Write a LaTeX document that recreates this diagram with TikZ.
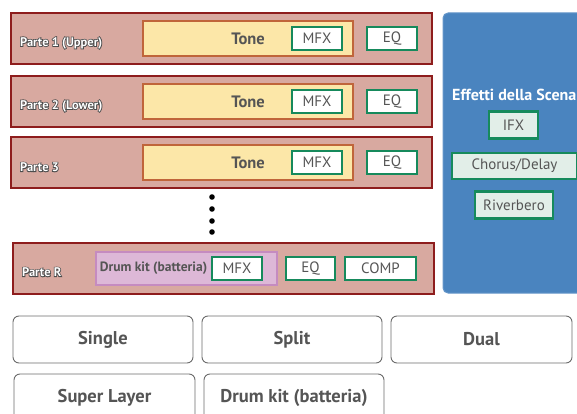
\documentclass[tikz,border=0pt]{standalone}
\usepackage{fontspec}
\setmainfont{PT Sans}
\usepackage{tikz}
\usetikzlibrary{positioning}
\definecolor{partfill}{HTML}{D8A9A0}
\definecolor{partline}{HTML}{8E1D1D}
\definecolor{tonefill}{HTML}{FCE7A8}
\definecolor{toneline}{HTML}{C0653A}
\definecolor{fxline}{HTML}{168A5C}
\definecolor{fxfill}{HTML}{E2EEE8}
\definecolor{drumfill}{HTML}{DDB8D7}
\definecolor{drumline}{HTML}{C58BC0}
\definecolor{sceneblue}{HTML}{4A84BF}
\definecolor{txtgray}{HTML}{555555}
\definecolor{modeline}{HTML}{6B6B6B}
% white text with a dark outline: stroked copy below, white text on top
\newcommand{\partlabel}[1]{\rlap{\special{pdf:literal direct 0.3 0.3 0.3 RG 1.5 w 1 Tr}#1\special{pdf:literal direct 0 Tr 0.4 w}}#1}
\tikzset{
    part/.style={rectangle, draw=partline, line width=2.4pt, fill=partfill, minimum width=421pt, minimum height=51pt, inner sep=0pt},
    partname/.style={anchor=west, inner sep=0pt, text=white, font=\fontsize{12.5}{14}\selectfont\bfseries},
    tone/.style={rectangle, draw=toneline, line width=2pt, fill=tonefill, minimum width=210pt, minimum height=35pt, text=txtgray, font=\fontsize{16.5}{18}\selectfont\bfseries},
    fx/.style={rectangle, draw=fxline, line width=2.2pt, fill=white, minimum width=50pt, minimum height=23pt, inner sep=0pt, text=txtgray, font=\fontsize{15}{16}\selectfont},
    scenefx/.style={fx, fill=fxfill, minimum height=27pt},
    drum/.style={rectangle, draw=drumline, line width=1.2pt, fill=drumfill, minimum width=181pt, minimum height=33pt, inner sep=0pt},
    scene/.style={rectangle, rounded corners=5pt, draw=sceneblue!85!white, line width=1pt, fill=sceneblue, minimum width=157pt, minimum height=280pt},
    dot/.style={circle, fill=black, inner sep=0pt, minimum size=5.6pt},
    mode/.style={rectangle, rounded corners=6pt, draw=modeline, line width=0.9pt, fill=white, minimum width=180pt, minimum height=47pt, text=txtgray, font=\fontsize{18.5}{20}\selectfont\bfseries}
}

\begin{document}
\begin{tikzpicture}[x=1pt, y=-1pt]
    \useasboundingbox (0,0) rectangle (577,414);
    \clip (0,0) rectangle (577,414);
    % parti con Tone
    \foreach \i/\y/\lab in {1/38.5/Parte 1 (Upper), 2/101.5/Parte 2 (Lower), 3/162.5/Parte 3} {
        \node[part] (part\i) at (221.5,\y) {};
        \node[partname] (name\i) at (20,\y+4.5) {\partlabel{\lab}};
        \node[tone] (tone\i) at (248,\y) {Tone};
        \node[fx] (mfx\i) at (317,\y) {MFX};
        \node[fx] (eq\i) at (392,\y) {EQ};
    }
    \foreach \y in {197,209,221,232} \node[dot] (dot\y) at (212,\y) {};
    % parte R
    \node[part] (partR) at (223.5,268.5) {};
    \node[partname] (nameR) at (22,272) {\partlabel{Parte R}};
    \node[drum] (drumR) at (186.5,268.5) {};
    \node[text=txtgray, font=\fontsize{13.5}{15}\selectfont\bfseries] (drumtxt) at (153.5,268.5) {Drum kit (batteria)};
    \node[fx] (mfxR) at (237,268.5) {MFX};
    \node[fx, minimum width=49pt] (eqR) at (310.5,268.5) {EQ};
    \node[fx, minimum width=71pt] (compR) at (380.5,268.5) {COMP};
    % effetti della scena
    \node[scene] (scene) at (521.5,153) {};
    \node[anchor=west, inner sep=0pt, text=white, font=\fontsize{16}{17}\selectfont\bfseries] (scenetxt) at (452,95) {Effetti della Scena};
    \node[scenefx, minimum width=49pt] (ifx) at (513.5,125) {IFX};
    \node[scenefx, minimum width=125pt, minimum height=26pt] (chorus) at (514.5,166) {Chorus/Delay};
    \node[scenefx, minimum width=78pt] (reverb) at (514,205) {Riverbero};
    % modi
    \node[mode] (single) at (103,339.5) {\raisebox{-1.5pt}{Single}};
    \node[mode] (split) at (292,339.5) {\raisebox{-1.5pt}{Split}};
    \node[mode, minimum width=181pt] (dual) at (481.5,339.5) {\raisebox{-1.5pt}{Dual}};
    \node[mode, minimum width=181pt] (super) at (104.5,397.5) {\raisebox{-1.5pt}{Super Layer}};
    \node[mode] (drumkit) at (294,397.5) {\raisebox{-1.5pt}{Drum kit (batteria)}};
\end{tikzpicture}
\end{document}
